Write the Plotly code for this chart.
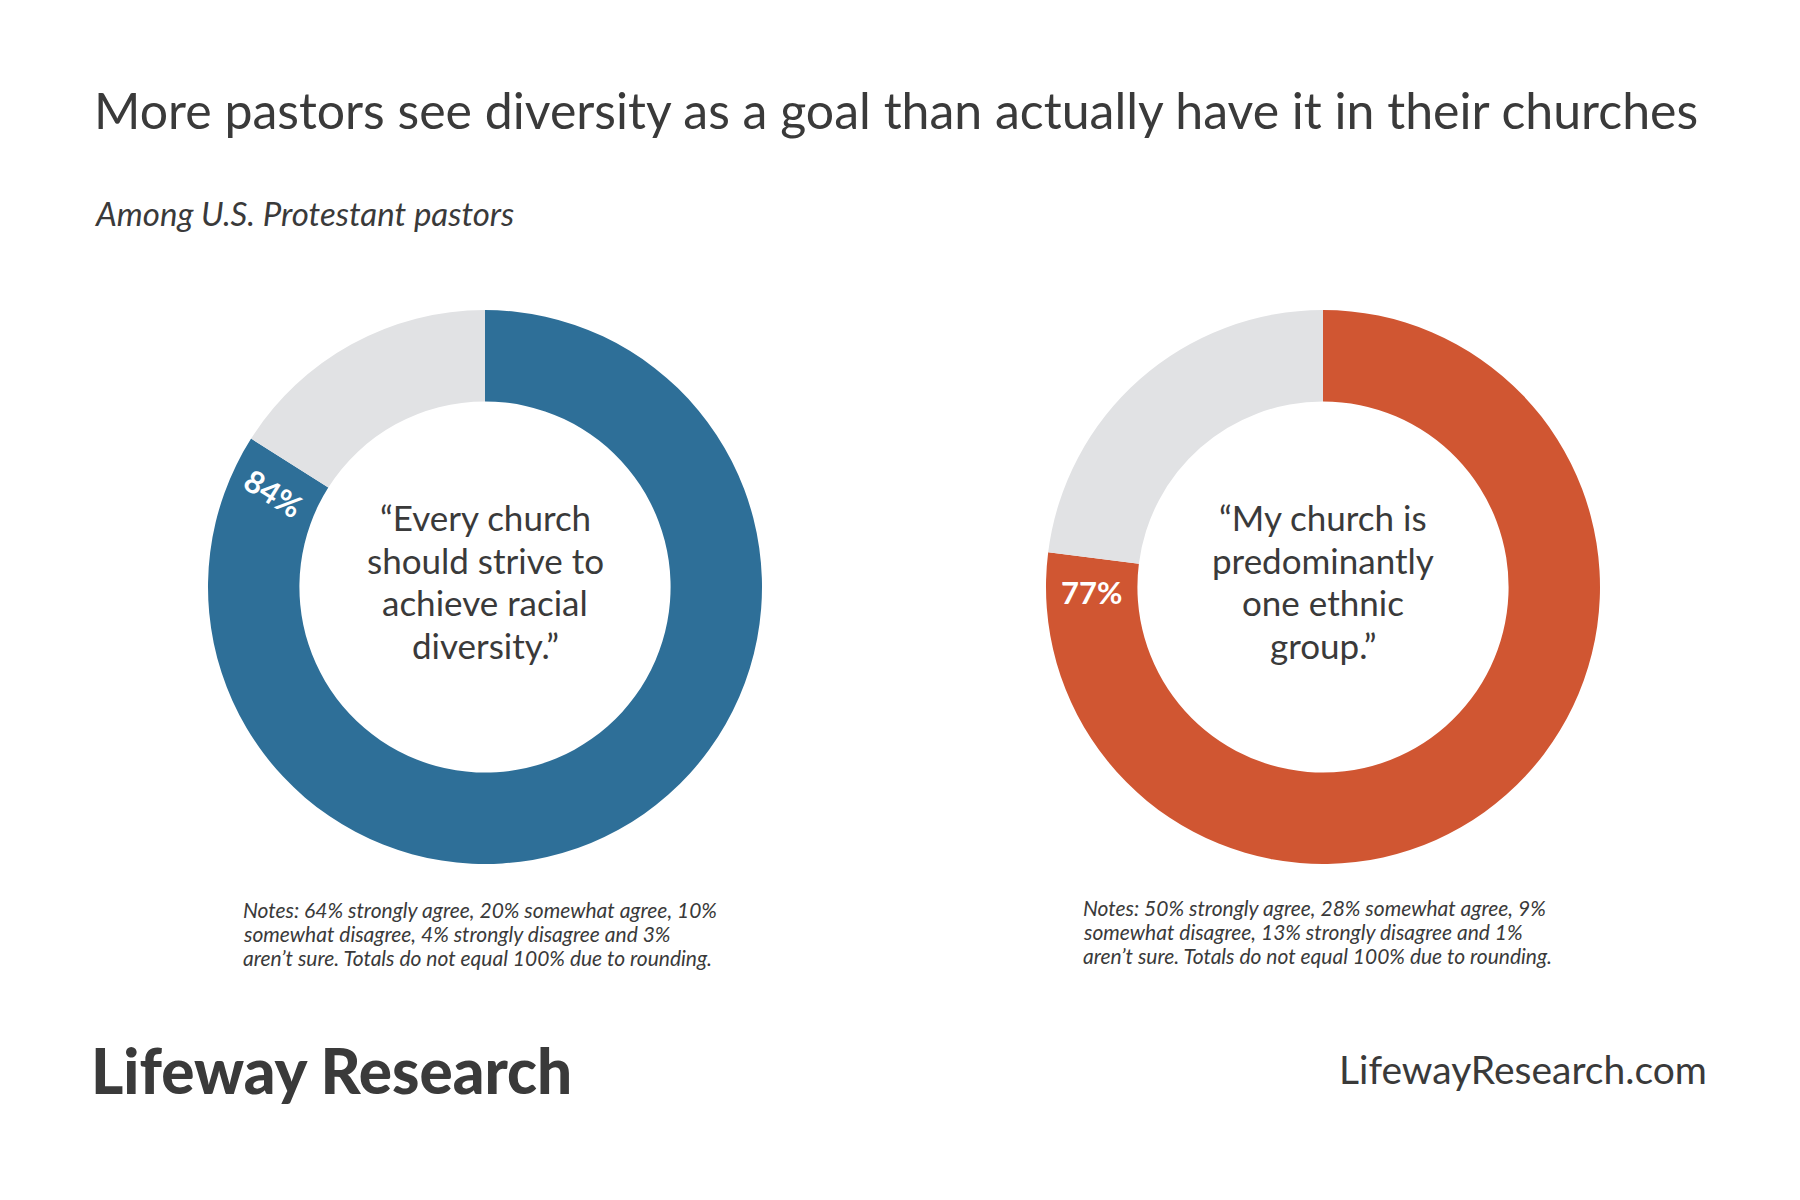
import math
import plotly.graph_objects as go

# ---------------- data ----------------
title_text = "More pastors see diversity as a goal than actually have it in their churches"
subtitle_text = "Among U.S. Protestant pastors"
statements = [
    ["“Every church", "should strive to", "achieve racial", "diversity.”"],
    ["“My church is", "predominantly", "one ethnic", "group.”"],
]
agree_pct = [84, 77]
rest_pct = [16, 23]
notes = [
    ["Notes: 64% strongly agree, 20% somewhat agree, 10%",
     "somewhat disagree, 4% strongly disagree and 3%",
     "aren’t sure. Totals do not equal 100% due to rounding."],
    ["Notes: 50% strongly agree, 28% somewhat agree, 9%",
     "somewhat disagree, 13% strongly disagree and 1%",
     "aren’t sure. Totals do not equal 100% due to rounding."],
]
brand_text = "Lifeway Research"
url_text = "LifewayResearch.com"

# ---------------- style ----------------
W, H = 1800, 1200
OFF = 8  # page body margin in the screenshot
main_colors = ["#2E6F98", "#D05632"]
grey = "#E1E2E4"
text_col = "#3a3a3a"
FONT = "Lato"
centers_px = [(485, 587), (1323, 587)]
R_OUT = 277
HOLE = 0.67
label_angles = [32, 0]
label_offset_deg = 8.4
stmt_line_gap = 42.5
stmt_dy = -6
notes_x_px = [241, 1081]
notes_top_px = [909, 907]
notes_gap = 24


def px(x, y):
    return (x - OFF) / W, 1 - (y - OFF) / H


fig = go.Figure()
for i in range(2):
    cx, cy = centers_px[i]
    cxa, cya = cx - OFF, cy - OFF
    fig.add_trace(go.Pie(
        values=[agree_pct[i], rest_pct[i]],
        labels=["Agree", "Other"],
        marker=dict(colors=[main_colors[i], grey], line=dict(width=0)),
        hole=HOLE,
        sort=False,
        direction="clockwise",
        rotation=0,
        textinfo="none",
        hoverinfo="skip",
        showlegend=False,
        domain=dict(x=[(cxa - R_OUT) / W, (cxa + R_OUT) / W],
                    y=[1 - (cya + R_OUT) / H, 1 - (cya - R_OUT) / H]),
    ))

annotations = []
tx, ty = px(92, 110)
annotations.append(dict(text=title_text, x=tx, y=ty, xanchor="left", yanchor="middle",
                        font=dict(family=FONT, size=50, color=text_col), showarrow=False))
sx, sy = px(92, 213)
annotations.append(dict(text="<i>" + subtitle_text + "</i>", x=sx, y=sy, xanchor="left", yanchor="middle",
                        font=dict(family=FONT, size=33, color=text_col), showarrow=False))

r_mid = R_OUT * (1 + HOLE) / 2
for i in range(2):
    cx, cy = centers_px[i]
    n = len(statements[i])
    for k, line in enumerate(statements[i]):
        ly = cy + stmt_dy + (k - (n - 1) / 2) * stmt_line_gap
        ax, ay = px(cx, ly)
        annotations.append(dict(text=line, x=ax, y=ay, xanchor="center", yanchor="middle",
                                font=dict(family=FONT, size=35, color=text_col), showarrow=False))
    theta = math.radians(rest_pct[i] * 3.6 + label_offset_deg)
    lx = cx - r_mid * math.sin(theta)
    lyy = cy - r_mid * math.cos(theta)
    lxp, lyp = px(lx, lyy)
    annotations.append(dict(text=f"<b>{agree_pct[i]}%</b>", x=lxp, y=lyp, xanchor="center", yanchor="middle",
                            textangle=label_angles[i],
                            font=dict(family=FONT, size=31, color="white", weight=900), showarrow=False))
    for k, line in enumerate(notes[i]):
        nx, ny = px(notes_x_px[i], notes_top_px[i] + k * notes_gap)
        annotations.append(dict(text="<i>" + line + "</i>", x=nx, y=ny, xanchor="left", yanchor="middle",
                                font=dict(family=FONT, size=21, color=text_col), showarrow=False))

bx, by = px(89, 1070)
annotations.append(dict(text=brand_text, x=bx, y=by, xanchor="left", yanchor="middle",
                        font=dict(family=FONT, size=62, color=text_col, weight=900), showarrow=False))
ux, uy = px(1709, 1069)
annotations.append(dict(text=url_text, x=ux, y=uy, xanchor="right", yanchor="middle",
                        font=dict(family=FONT, size=39, color=text_col), showarrow=False))

fig.update_layout(
    width=W, height=H,
    margin=dict(l=0, r=0, t=0, b=0),
    paper_bgcolor="white",
    plot_bgcolor="white",
    annotations=annotations,
    showlegend=False,
)

fig.write_html("out.html")
